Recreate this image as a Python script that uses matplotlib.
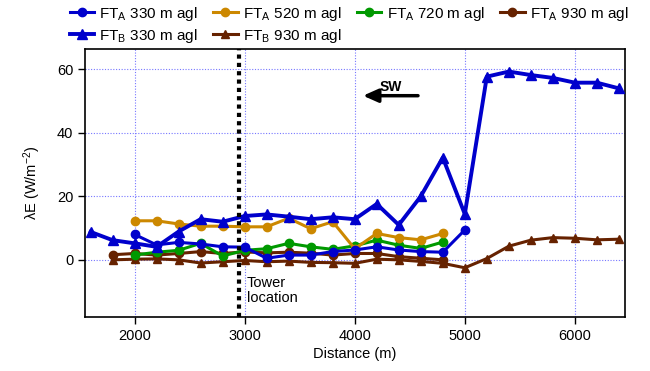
import matplotlib
matplotlib.use("Agg")
import matplotlib.pyplot as plt
import numpy as np

plt.rcParams['font.family'] = ['Liberation Sans', 'DejaVu Sans']
plt.rcParams['mathtext.default'] = 'regular'

# Data
x_a330 = [2000, 2200, 2400, 2600, 2800, 3000, 3200, 3400, 3600, 3800, 4000, 4200, 4400, 4600, 4800, 5000]
y_a330 = [8.0, 4.7, 5.5, 5.0, 4.1, 4.0, 0.5, 1.5, 1.5, 2.6, 3.1, 4.1, 3.1, 2.6, 2.4, 9.4]

x_a520 = [2000, 2200, 2400, 2600, 2800, 3000, 3200, 3400, 3600, 3800, 4000, 4200, 4400, 4600, 4800]
y_a520 = [12.3, 12.3, 11.3, 10.6, 10.6, 10.4, 10.4, 13.1, 9.8, 12.0, 3.5, 8.3, 7.0, 6.3, 8.3]

x_a720 = [2000, 2200, 2400, 2600, 2800, 3000, 3200, 3400, 3600, 3800, 4000, 4200, 4400, 4600, 4800]
y_a720 = [1.5, 2.4, 3.0, 5.2, 1.2, 3.0, 3.5, 5.2, 4.1, 3.3, 4.4, 6.2, 4.6, 3.6, 5.6]

x_a930 = [1800, 2000, 2200, 2400, 2600, 2800, 3000, 3200, 3400, 3600, 3800, 4000, 4200, 4400, 4600, 4800]
y_a930 = [1.6, 2.0, 1.5, 2.0, 2.6, 2.0, 2.5, 2.2, 2.4, 2.1, 1.5, 2.0, 2.0, 1.0, 0.5, 0.0]

x_b330 = [1600, 1800, 2000, 2200, 2400, 2600, 2800, 3000, 3200, 3400, 3600, 3800, 4000, 4200,
          4400, 4600, 4800, 5000, 5200, 5400, 5600, 5800, 6000, 6200, 6400]
y_b330 = [8.8, 6.2, 5.2, 4.1, 8.9, 12.8, 12.0, 13.8, 14.3, 13.6, 12.8, 13.4, 12.8, 17.6,
          11.0, 20.0, 32.2, 14.4, 57.7, 59.3, 58.2, 57.3, 55.8, 55.8, 54.0]

x_b930 = [1800, 2000, 2200, 2400, 2600, 2800, 3000, 3200, 3400, 3600, 3800, 4000, 4200,
          4400, 4600, 4800, 5000, 5200, 5400, 5600, 5800, 6000, 6200, 6400]
y_b930 = [0.0, 0.2, 0.3, 0.0, -1.0, -0.6, -0.2, -0.6, -0.4, -0.8, -0.9, -1.1, 0.2,
          0.0, -0.5, -1.1, -2.5, 0.4, 4.3, 6.2, 7.0, 6.8, 6.3, 6.5]

c_blue = '#0000CC'
c_orange = '#CC8800'
c_green = '#009900'
c_brown = '#662200'

tower_x = 2950

fig = plt.figure(figsize=(6.5, 3.71), dpi=100)
ax = fig.add_axes([0.1308, 0.1456, 0.8307, 0.7214])

lw = 2.2
ms = 6
ax.plot(x_b930, y_b930, color=c_brown, lw=lw, marker='^', ms=ms, label='FT$_{B}$ 930 m agl', zorder=3)
ax.plot(x_a930, y_a930, color=c_brown, lw=lw, marker='o', ms=ms, label='FT$_{A}$ 930 m agl', zorder=3)
ax.plot(x_a720, y_a720, color=c_green, lw=lw, marker='o', ms=ms, label='FT$_{A}$ 720 m agl', zorder=3)
ax.plot(x_a520, y_a520, color=c_orange, lw=lw, marker='o', ms=ms, label='FT$_{A}$ 520 m agl', zorder=3)
ax.plot(x_a330, y_a330, color=c_blue, lw=lw, marker='o', ms=ms, label='FT$_{A}$ 330 m agl', zorder=3)
ax.plot(x_b330, y_b330, color=c_blue, lw=lw + 0.6, marker='^', ms=ms + 0.5, label='FT$_{B}$ 330 m agl', zorder=3)

ax.axvline(tower_x, color='black', lw=3, linestyle=(0, (1, 1)), zorder=4)
ax.text(tower_x + 70, -5.2, 'Tower\nlocation', ha='left', va='top', fontsize=10.5, linespacing=1.1)

ax.annotate('', xy=(4050, 51.7), xytext=(4600, 51.7),
            arrowprops=dict(arrowstyle='-|>,head_length=0.9,head_width=0.4', color='black', lw=2.5))
ax.text(4330, 54.3, 'SW', ha='center', va='center', fontsize=10, fontweight='bold')

ax.set_xlim(1550, 6455)
ax.set_ylim(-18, 66.3)
ax.set_xticks([2000, 3000, 4000, 5000, 6000])
ax.set_yticks([0, 20, 40, 60])
ax.grid(True, color='#7777FF', linestyle=(0, (1, 1.5)), lw=0.8)
ax.set_axisbelow(True)
ax.tick_params(direction='out', length=5, labelsize=10.5, width=1)
for s in ax.spines.values():
    s.set_linewidth(1.2)
ax.set_xlabel('Distance (m)', fontsize=10.5, labelpad=3)
ax.set_ylabel('λE (W/m$^{-2}$)', fontsize=10.5, labelpad=10)

handles, labels = ax.get_legend_handles_labels()
order = ['FT$_{A}$ 330 m agl', 'FT$_{B}$ 330 m agl', 'FT$_{A}$ 520 m agl', 'FT$_{B}$ 930 m agl',
         'FT$_{A}$ 720 m agl', 'FT$_{A}$ 930 m agl']
hd = dict(zip(labels, handles))
fig.legend([hd[o] for o in order], order, ncol=4, loc='upper left', bbox_to_anchor=(0.093, 1.012),
           frameon=False, fontsize=11, handlelength=1.6, handletextpad=0.35, columnspacing=1.0,
           labelspacing=0.25, borderaxespad=0.2)

fig.savefig('out.png', dpi=100)
